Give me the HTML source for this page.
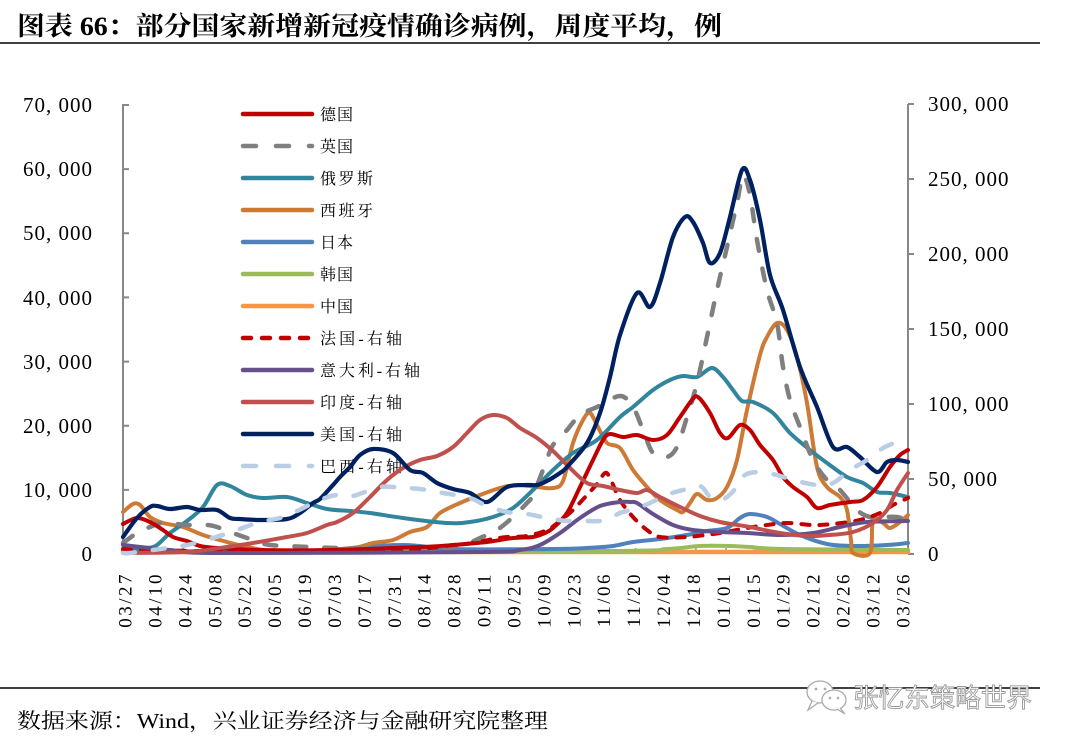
<!DOCTYPE html>
<html><head><meta charset="utf-8"><style>
html,body{margin:0;padding:0;background:#fff;}
svg{display:block;}
.ax{font-family:"Liberation Serif","Noto Serif CJK SC",serif;font-size:21px;fill:#000;letter-spacing:1px;}
.xl{font-family:"Liberation Serif","Noto Serif CJK SC",serif;font-size:19px;fill:#000;letter-spacing:2.5px;}
.lg{font-family:"Liberation Serif","Noto Serif CJK SC",serif;font-size:16px;fill:#000;}
.s{fill:none;stroke-linejoin:round;stroke-linecap:round;}
</style></head><body>
<svg id="c" width="1068" height="746" viewBox="0 0 1068 746" xmlns="http://www.w3.org/2000/svg">
<rect width="1068" height="746" fill="#fff"/>
<text x="17" y="35" font-family="'Liberation Serif','Noto Serif CJK SC',serif" font-weight="bold" font-size="26" textLength="705" lengthAdjust="spacingAndGlyphs">图表 66：部分国家新增新冠疫情确诊病例，周度平均，例</text>
<line x1="0" y1="43" x2="1040" y2="43" stroke="#000" stroke-width="1.5"/>

<!-- axes -->
<g stroke="#888" stroke-width="2" fill="none">
<line x1="123" y1="104" x2="123" y2="554"/>
<line x1="908" y1="104" x2="908" y2="554"/>
<line x1="123" y1="553" x2="908" y2="553"/>
<path d="M123,105H129M123,169.1H129M123,233.3H129M123,297.4H129M123,361.6H129M123,425.7H129M123,489.9H129"/>
<path d="M908,104H914M908,179H914M908,254H914M908,329H914M908,404H914M908,479H914M908,554H914"/>
</g>
<g stroke="#999" stroke-width="1.5" id="xt"></g>

<g class="ax" text-anchor="end">
<text x="93" y="112">70, 000</text>
<text x="93" y="176">60, 000</text>
<text x="93" y="240">50, 000</text>
<text x="93" y="305">40, 000</text>
<text x="93" y="369">30, 000</text>
<text x="93" y="433">20, 000</text>
<text x="93" y="497">10, 000</text>
<text x="93" y="561">0</text>
</g>
<g class="ax">
<text x="928" y="111">300, 000</text>
<text x="928" y="186">250, 000</text>
<text x="928" y="261">200, 000</text>
<text x="928" y="336">150, 000</text>
<text x="928" y="411">100, 000</text>
<text x="928" y="486">50, 000</text>
<text x="928" y="561">0</text>
</g>

<g class="xl" text-anchor="end">
<text transform="translate(131.5,572) rotate(-90)">03/27</text>
<text transform="translate(161.4,572) rotate(-90)">04/10</text>
<text transform="translate(191.3,572) rotate(-90)">04/24</text>
<text transform="translate(221.3,572) rotate(-90)">05/08</text>
<text transform="translate(251.2,572) rotate(-90)">05/22</text>
<text transform="translate(281.1,572) rotate(-90)">06/05</text>
<text transform="translate(311.0,572) rotate(-90)">06/19</text>
<text transform="translate(340.9,572) rotate(-90)">07/03</text>
<text transform="translate(370.9,572) rotate(-90)">07/17</text>
<text transform="translate(400.8,572) rotate(-90)">07/31</text>
<text transform="translate(430.7,572) rotate(-90)">08/14</text>
<text transform="translate(460.6,572) rotate(-90)">08/28</text>
<text transform="translate(490.5,572) rotate(-90)">09/11</text>
<text transform="translate(520.5,572) rotate(-90)">09/25</text>
<text transform="translate(550.4,572) rotate(-90)">10/09</text>
<text transform="translate(580.3,572) rotate(-90)">10/23</text>
<text transform="translate(610.2,572) rotate(-90)">11/06</text>
<text transform="translate(640.1,572) rotate(-90)">11/20</text>
<text transform="translate(670.1,572) rotate(-90)">12/04</text>
<text transform="translate(700.0,572) rotate(-90)">12/18</text>
<text transform="translate(729.9,572) rotate(-90)">01/01</text>
<text transform="translate(759.8,572) rotate(-90)">01/15</text>
<text transform="translate(789.7,572) rotate(-90)">01/29</text>
<text transform="translate(819.7,572) rotate(-90)">02/12</text>
<text transform="translate(849.6,572) rotate(-90)">02/26</text>
<text transform="translate(879.5,572) rotate(-90)">03/12</text>
<text transform="translate(909.4,572) rotate(-90)">03/26</text>
</g>

<!-- legend -->
<g class="s" stroke-width="4.5">
<line x1="243" y1="114" x2="312" y2="114" stroke="#C00000"/>
<line x1="243" y1="146" x2="312" y2="146" stroke="#7F7F7F" stroke-dasharray="13 20"/>
<line x1="243" y1="178" x2="312" y2="178" stroke="#31859C"/>
<line x1="243" y1="210" x2="312" y2="210" stroke="#CD7A35"/>
<line x1="243" y1="242" x2="312" y2="242" stroke="#4F81BD"/>
<line x1="243" y1="274" x2="312" y2="274" stroke="#9BBB59"/>
<line x1="243" y1="306" x2="312" y2="306" stroke="#F79646"/>
<line x1="243" y1="338" x2="312" y2="338" stroke="#C00000" stroke-dasharray="8 11"/>
<line x1="243" y1="370" x2="312" y2="370" stroke="#66508C"/>
<line x1="243" y1="402" x2="312" y2="402" stroke="#C0504D"/>
<line x1="243" y1="434" x2="312" y2="434" stroke="#002060"/>
<line x1="243" y1="466" x2="312" y2="466" stroke="#B9CDE5" stroke-dasharray="13 20"/>
</g>
<g class="lg">
<text x="320" y="120" textLength="33" lengthAdjust="spacing">德国</text>
<text x="320" y="152" textLength="33" lengthAdjust="spacing">英国</text>
<text x="320" y="184" textLength="53" lengthAdjust="spacing">俄罗斯</text>
<text x="320" y="216" textLength="53" lengthAdjust="spacing">西班牙</text>
<text x="320" y="248" textLength="33" lengthAdjust="spacing">日本</text>
<text x="320" y="280" textLength="33" lengthAdjust="spacing">韩国</text>
<text x="320" y="312" textLength="33" lengthAdjust="spacing">中国</text>
<text x="320" y="344" textLength="82" lengthAdjust="spacing">法国-右轴</text>
<text x="320" y="376" textLength="100" lengthAdjust="spacing">意大利-右轴</text>
<text x="320" y="408" textLength="82" lengthAdjust="spacing">印度-右轴</text>
<text x="320" y="440" textLength="82" lengthAdjust="spacing">美国-右轴</text>
<text x="320" y="472" textLength="82" lengthAdjust="spacing">巴西-右轴</text>
</g>

<!-- series -->
<g stroke-width="4">
<path class="s" stroke="#F79646" stroke-width="4.5" d="M123,552 L908,552"/>
<path class="s" stroke="#9BBB59" d="M123,552 L600,551 L667,549 L700,546 L730,546 L750,547 L783,549 L908,550"/>
<path class="s" stroke="#4F81BD" d="M123,551 L300,551 L373,546 L403,545 L420,546 L450,549 L553,549 L587,548 L613,546 L633,542 L660,539 L687,535 L707,531 L727,528 L740,518 L750,514 L767,517 L780,524 L800,535 L827,544 L853,546 L887,545 L908,543"/>
<path class="s" stroke="#CD7A35" d="M123,512 L133,504 L140,505 L150,517 L163,523 L183,527 L203,535 L227,542 L247,547 L270,551 L300,552 L353,548 L373,543 L393,540 L410,532 L427,527 L440,513 L460,503 L480,495 L500,488 L517,485 L537,487 L553,488 L563,481 L573,443 L583,420 L590,413 L598,427 L607,443 L620,448 L633,470 L647,487 L660,500 L677,510 L683,512 L690,503 L697,494 L707,500 L717,498 L727,487 L737,460 L747,410 L760,355 L767,337 L777,323 L787,330 L797,357 L807,403 L817,467 L827,487 L840,497 L847,510 L851,540 L853,553 L870,553 L873,520 L883,523 L890,528 L900,522 L908,515"/>
<path class="s" stroke="#31859C" d="M123,549 L147,548 L157,545 L170,533 L187,521 L203,507 L217,485 L230,486 L247,495 L263,498 L287,497 L307,503 L327,509 L350,511 L370,513 L403,518 L447,523 L470,522 L493,517 L513,508 L533,490 L553,470 L573,453 L597,440 L620,417 L633,407 L653,390 L670,380 L683,376 L697,377 L712,368 L723,377 L733,390 L742,401 L753,402 L773,413 L790,433 L810,450 L827,463 L847,477 L863,483 L877,492 L890,493 L908,497"/>
<path class="s" stroke="#7F7F7F" stroke-width="4.5" stroke-dasharray="12 18" d="M123,543 L137,533 L150,527 L163,523 L187,525 L207,525 L217,527 L233,533 L253,540 L270,545 L310,547 L337,548 L380,549 L430,549 L463,545 L480,538 L497,530 L513,517 L527,503 L533,495 L543,470 L553,445 L567,430 L580,415 L597,407 L620,396 L633,407 L643,430 L653,453 L667,457 L677,447 L687,417 L697,383 L707,337 L717,290 L727,247 L737,203 L743,175 L750,195 L757,240 L767,290 L777,323 L783,367 L790,400 L800,427 L813,460 L827,480 L840,490 L857,510 L870,517 L883,517 L897,517 L908,520"/>
<path class="s" stroke="#C00000" d="M123,524 L137,518 L150,522 L163,530 L173,537 L187,541 L200,546 L217,548 L260,550 L330,550 L420,547 L453,545 L487,542 L513,538 L533,537 L545,533 L553,528 L567,513 L580,487 L593,460 L603,440 L610,434 L623,437 L637,435 L653,440 L667,435 L680,417 L692,400 L698,397 L710,413 L720,433 L728,438 L740,425 L750,430 L760,445 L773,460 L783,477 L793,487 L807,497 L817,508 L830,505 L850,502 L863,500 L877,487 L890,467 L900,455 L908,450"/>
<path class="s" stroke="#C00000" stroke-dasharray="8 10" d="M123,549 L200,551 L300,551 L400,550 L430,548 L453,545 L473,543 L493,539 L507,537 L527,536 L547,530 L560,521 L573,510 L587,495 L597,484 L605,473 L610,478 L620,500 L633,517 L647,530 L660,537 L687,537 L720,533 L747,528 L767,525 L787,523 L813,525 L833,524 L860,520 L880,513 L893,505 L908,498"/>
<path class="s" stroke="#66508C" d="M123,545 L170,550 L220,553 L480,552 L520,550 L540,545 L560,533 L580,518 L600,506 L620,502 L630,502 L637,503 L653,514 L673,525 L693,530 L720,532 L747,533 L780,535 L813,533 L840,527 L867,522 L908,521"/>
<path class="s" stroke="#C0504D" d="M123,553 L187,552 L220,548 L253,543 L287,537 L307,533 L327,525 L337,522 L353,513 L370,497 L387,480 L403,468 L420,460 L437,456 L453,447 L467,433 L480,420 L493,415 L507,418 L520,428 L537,438 L553,451 L570,468 L587,483 L603,486 L620,490 L637,493 L647,490 L660,497 L680,507 L700,516 L720,522 L750,527 L780,533 L807,536 L830,535 L853,532 L873,523 L887,510 L897,490 L908,473"/>
<path class="s" stroke="#002060" stroke-width="4.2" d="M123,537 L137,518 L150,507 L157,506 L170,509 L187,507 L200,510 L217,510 L230,518 L240,519 L260,520 L287,519 L300,513 L313,503 L320,499 L333,485 L340,477 L350,467 L360,455 L373,449 L393,453 L410,470 L423,473 L437,483 L453,489 L470,493 L487,502 L507,487 L527,485 L537,485 L547,481 L560,473 L567,467 L587,443 L600,413 L610,377 L620,335 L637,293 L650,307 L660,283 L673,237 L685,217 L693,222 L703,243 L710,263 L720,253 L730,217 L742,170 L750,180 L760,220 L770,275 L783,310 L800,367 L817,407 L833,447 L847,447 L860,457 L877,472 L887,462 L897,460 L908,462"/>
<path class="s" stroke="#B9CDE5" stroke-width="4.5" stroke-dasharray="12 18" d="M123,553 L130,553 L153,550 L187,545 L213,538 L237,530 L260,522 L280,518 L297,511 L320,500 L337,495 L353,496 L380,487 L403,488 L420,489 L443,493 L470,498 L487,506 L507,512 L527,514 L547,518 L567,521 L587,521 L600,521 L613,517 L620,513 L643,506 L667,495 L683,490 L700,486 L710,497 L720,500 L727,497 L737,487 L745,475 L760,472 L777,475 L793,480 L817,485 L833,483 L850,470 L867,460 L883,448 L897,442 L908,438"/>
</g>

<!-- footer -->
<line x1="0" y1="688" x2="1040" y2="688" stroke="#000" stroke-width="1.5"/>
<g fill="#fff" stroke="#aaa" stroke-width="1.3">
<ellipse cx="820" cy="692" rx="13" ry="11"/>
<path d="M812,701 L808,710 L818,703" />
<ellipse cx="834" cy="700" rx="12" ry="10"/>
<path d="M840,708 L845,714 L837,709"/>
</g>
<g fill="#aaa"><circle cx="816" cy="689" r="1.4"/><circle cx="825" cy="689" r="1.4"/><circle cx="830" cy="698" r="1.3"/><circle cx="838" cy="698" r="1.3"/></g>
<text x="853" y="707" font-family="'Liberation Sans','Noto Sans CJK SC',sans-serif" font-size="26" fill="#fff" stroke="#999" stroke-width="0.9" textLength="179" lengthAdjust="spacingAndGlyphs">张忆东策略世界</text>
<text x="17" y="728" font-family="'Liberation Serif','Noto Serif CJK SC',serif" font-size="21" fill="#000" textLength="531" lengthAdjust="spacingAndGlyphs">数据来源：Wind，兴业证券经济与金融研究院整理</text>
</svg>
<script>
(function(){
  var xt=document.getElementById('xt');var d='';
  for(var k=0;k<27;k++){var x=123+30.15*k;d+='M'+x.toFixed(1)+',553V548';}
  var p=document.createElementNS('http://www.w3.org/2000/svg','path');p.setAttribute('d',d);xt.appendChild(p);
  var ps=document.querySelectorAll('path.s');
  for(var i=0;i<ps.length;i++){
    var s=ps[i].getAttribute('d');var nums=s.match(/-?\d+(\.\d+)?/g).map(Number);
    var pts=[];for(var j=0;j+1<nums.length;j+=2)pts.push([nums[j],nums[j+1]]);
    if(pts.length<3)continue;
    var out='M'+pts[0][0]+','+pts[0][1];
    for(var j=0;j<pts.length-1;j++){
      var p0=pts[j-1]||pts[j],p1=pts[j],p2=pts[j+1],p3=pts[j+2]||p2;
      var t=0.16;
      var c1x=p1[0]+(p2[0]-p0[0])*t,c1y=p1[1]+(p2[1]-p0[1])*t;
      var c2x=p2[0]-(p3[0]-p1[0])*t,c2y=p2[1]-(p3[1]-p1[1])*t;
      out+=' C'+c1x.toFixed(1)+','+c1y.toFixed(1)+' '+c2x.toFixed(1)+','+c2y.toFixed(1)+' '+p2[0]+','+p2[1];
    }
    ps[i].setAttribute('d',out);
  }
})();
</script>
</body></html>
